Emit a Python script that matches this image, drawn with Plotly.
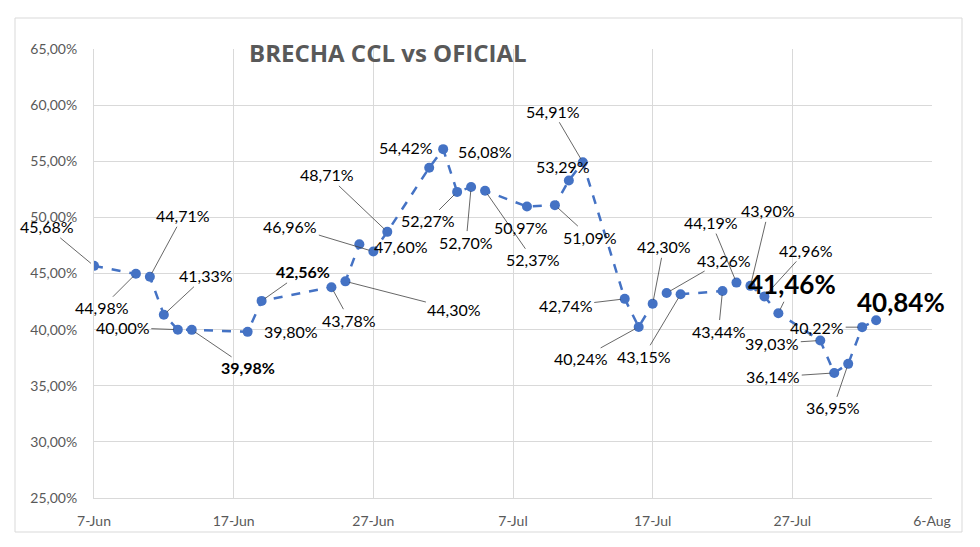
import plotly.graph_objects as go

# ---- data ----
dates = [
    "2024-06-07", "2024-06-10", "2024-06-11", "2024-06-12", "2024-06-13", "2024-06-14",
    "2024-06-18", "2024-06-19", "2024-06-24", "2024-06-25", "2024-06-26", "2024-06-27",
    "2024-06-28", "2024-07-01", "2024-07-02", "2024-07-03", "2024-07-04", "2024-07-05",
    "2024-07-08", "2024-07-10", "2024-07-11", "2024-07-12", "2024-07-15", "2024-07-16",
    "2024-07-17", "2024-07-18", "2024-07-19", "2024-07-22", "2024-07-23", "2024-07-24",
    "2024-07-25", "2024-07-26", "2024-07-29", "2024-07-30", "2024-07-31", "2024-08-01",
    "2024-08-02",
]
brecha = [
    45.68, 44.98, 44.71, 41.33, 40.00, 39.98,
    39.80, 42.56, 43.78, 44.30, 47.60, 46.96,
    48.71, 54.42, 56.08, 52.27, 52.70, 52.37,
    50.97, 51.09, 53.29, 54.91, 42.74, 40.24,
    42.30, 43.26, 43.15, 43.44, 44.19, 43.90,
    42.96, 41.46, 39.03, 36.14, 36.95, 40.22,
    40.84,
]
x_ticks = ["2024-06-07", "2024-06-17", "2024-06-27", "2024-07-07",
           "2024-07-17", "2024-07-27", "2024-08-06"]
x_tick_text = ["7-Jun", "17-Jun", "27-Jun", "7-Jul", "17-Jul", "27-Jul", "6-Aug"]
title_text = "BRECHA CCL vs OFICIAL"

# ---- label placement (pixel offsets from each point, style) ----
# (dx, dy, leader, style) style: n normal, b bold, B big bold
label_layout = [
    (-47, -39, True, "n"), (-34, 34, True, "n"), (33, -61, True, "n"), (42, -39, True, "n"),
    (-55, -2, True, "n"), (56, 38, True, "b"), (43, 0, False, "n"), (41, -29, True, "b"),
    (18, 33, True, "n"), (109, 28, True, "n"), (42, 2, False, "n"), (-83, -25, True, "n"),
    (-60, -57, True, "n"), (-23, -20, False, "n"), (42, 2, False, "n"), (-29, 29, True, "n"),
    (-5, 55, True, "n"), (48, 69, True, "n"), (-6, 21, False, "n"), (35, 32, True, "n"),
    (-6, -14, False, "n"), (-30, -51, True, "n"), (-59, 7, True, "n"), (-58, 32, True, "n"),
    (11, -57, True, "n"), (57, -33, True, "n"), (-37, 62, True, "n"), (-4, 40, True, "n"),
    (-25, -60, True, "n"), (18, -75, True, "n"), (42, -46, True, "n"), (14, -29, True, "B"),
    (-48, 3, True, "n"), (-61, 4, True, "n"), (-15, 44, True, "n"), (-45, 0, True, "n"),
    (25, -18, False, "B"),
]

BLUE = "#4472C4"
GRID = "#d9d9d9"
TICK = "#595959"
FONT = "Lato, 'Open Sans', sans-serif"

# page has an 8px body margin: the figure is sized/offset to compensate
OFF = 8
W, H = 980 - OFF, 547 - OFF
L, T = 94 - OFF, 49 - OFF
R = W - (932 - OFF)
B = H - (498 - OFF)
pw, ph = W - L - R, H - T - B


def px_x(xr):
    return (xr - OFF - L) / pw


def px_y(yr):
    return (H - B - (yr - OFF)) / ph


fig = go.Figure()
fig.add_trace(go.Scatter(
    x=dates, y=brecha, mode="lines+markers",
    line=dict(color=BLUE, width=2.5, dash="dash"),
    marker=dict(color=BLUE, size=10),
    hoverinfo="skip", showlegend=False,
))

annotations = []
for d, v, (dx, dy, leader, style) in zip(dates, brecha, label_layout):
    txt = f"{v:.2f}%".replace(".", ",")
    if style == "b":
        txt = f"<b>{txt}</b>"
        size = 16
    elif style == "B":
        txt = f"<b>{txt}</b>"
        size = 26
    else:
        size = 16
    annotations.append(dict(
        x=d, y=v, xref="x", yref="y", text=txt,
        showarrow=True, arrowhead=0, arrowwidth=0.8,
        arrowcolor="#404040" if leader else "rgba(0,0,0,0)",
        ax=dx, ay=dy, standoff=4,
        font=dict(family=FONT, size=size, color="#000000"),
    ))

annotations.append(dict(
    x=px_x(388), y=px_y(53), xref="paper", yref="paper",
    xanchor="center", yanchor="middle",
    text=f"<b>{title_text}</b>", showarrow=False,
    font=dict(family="'Open Sans', sans-serif", size=24, color=TICK),
))

fig.update_layout(
    width=W, height=H,
    margin=dict(l=L, r=R, t=T, b=B),
    paper_bgcolor="white", plot_bgcolor="white",
    separators=",.",
    annotations=annotations,
    shapes=[dict(
        type="rect", xref="paper", yref="paper",
        x0=px_x(15), x1=px_x(962),
        y0=px_y(532), y1=px_y(18),
        line=dict(color=GRID, width=1), layer="below",
    )],
    xaxis=dict(
        type="date", range=["2024-06-07", "2024-08-06"],
        tickvals=x_ticks, ticktext=x_tick_text,
        showgrid=True, gridcolor=GRID, gridwidth=1,
        showline=True, linecolor=GRID, linewidth=1, mirror=False,
        zeroline=False, ticks="", ticklabelstandoff=10,
        tickfont=dict(family=FONT, size=14, color=TICK),
    ),
    yaxis=dict(
        range=[25, 65], dtick=5, tick0=25,
        tickformat=".2f", ticksuffix="%",
        showgrid=True, gridcolor=GRID, gridwidth=1,
        showline=True, linecolor=GRID, linewidth=1,
        zeroline=False, ticks="", ticklabelstandoff=13,
        tickfont=dict(family=FONT, size=14, color=TICK),
    ),
)

fig.write_html("out.html")
